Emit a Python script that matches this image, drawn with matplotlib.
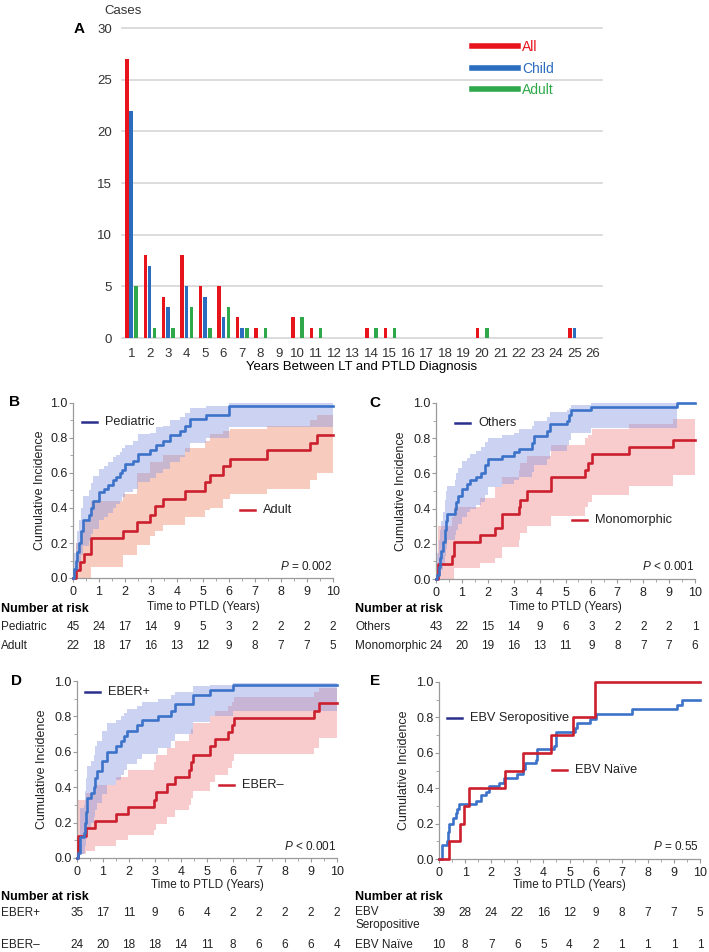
import matplotlib
matplotlib.use('Agg')
import numpy as np
import matplotlib.pyplot as plt
from matplotlib import font_manager
from matplotlib.lines import Line2D
from matplotlib.ticker import MultipleLocator, FormatStrFormatter
from matplotlib.transforms import blended_transform_factory

plt.rcParams['font.family'] = ['Liberation Sans', 'DejaVu Sans']
plt.rcParams['mathtext.fontset'] = 'custom'
plt.rcParams['mathtext.rm'] = 'Liberation Sans'
plt.rcParams['mathtext.it'] = 'Liberation Sans:italic'

try:
    font_manager.findfont('Liberation Sans Narrow', fallback_to_default=False)
    NARROW = ['Liberation Sans Narrow', 'Liberation Sans']
except ValueError:
    NARROW = ['Liberation Sans']

# ---- panel A: cases by years between LT and PTLD ----
years = list(range(1, 27))
all_cases = [27, 8, 4, 8, 5, 5, 2, 1, 0, 2, 1, 0, 0, 1, 1, 0, 0, 0, 0, 1, 0, 0, 0, 0, 1, 0]
child_cases = [22, 7, 3, 5, 4, 2, 1, 0, 0, 0, 0, 0, 0, 0, 0, 0, 0, 0, 0, 0, 0, 0, 0, 0, 1, 0]
adult_cases = [5, 1, 1, 3, 1, 3, 1, 1, 0, 2, 1, 0, 0, 1, 1, 0, 0, 0, 0, 1, 0, 0, 0, 0, 0, 0]

# ---- panel B: pediatric vs adult ----
ped_t = [0, 0.03, 0.1, 0.17, 0.24, 0.3, 0.38, 0.6, 0.7, 0.78, 1.0, 1.18, 1.35, 1.55, 1.65,
         1.8, 1.9, 2.0, 2.3, 2.5, 2.95, 3.2, 3.47, 3.73, 4.1, 4.3, 4.5, 5.1, 6.0]
ped_est = [0, 0.05, 0.1, 0.15, 0.2, 0.27, 0.33, 0.36, 0.4, 0.44, 0.49, 0.51, 0.53, 0.56, 0.58,
           0.6, 0.62, 0.65, 0.67, 0.71, 0.73, 0.76, 0.78, 0.82, 0.84, 0.87, 0.91, 0.93, 0.98]
ped_lo = [0, 0, 0.02, 0.05, 0.08, 0.13, 0.18, 0.21, 0.25, 0.28, 0.33, 0.35, 0.37, 0.4, 0.42,
          0.44, 0.46, 0.49, 0.51, 0.55, 0.57, 0.6, 0.62, 0.66, 0.69, 0.72, 0.77, 0.8, 0.86]
ped_hi = [0, 0.14, 0.2, 0.27, 0.33, 0.4, 0.47, 0.5, 0.54, 0.58, 0.62, 0.64, 0.66, 0.69, 0.7,
          0.72, 0.74, 0.76, 0.78, 0.82, 0.83, 0.86, 0.87, 0.9, 0.92, 0.94, 0.97, 0.98, 1.0]

adu_t = [0, 0.12, 0.27, 0.42, 0.68, 1.94, 2.45, 2.96, 3.15, 3.47, 4.31, 5.08, 5.27, 5.78, 6.05, 7.45, 9.12, 9.37]
adu_est = [0, 0.045, 0.09, 0.14, 0.23, 0.27, 0.32, 0.36, 0.41, 0.45, 0.5, 0.55, 0.59, 0.64, 0.68, 0.73, 0.77, 0.82]
adu_lo = [0, 0, 0, 0, 0.06, 0.13, 0.19, 0.24, 0.27, 0.3, 0.35, 0.39, 0.4, 0.45, 0.48, 0.51, 0.56, 0.6]
adu_hi = [0, 0.2, 0.27, 0.33, 0.44, 0.48, 0.6, 0.66, 0.66, 0.7, 0.74, 0.78, 0.82, 0.84, 0.85, 0.87, 0.9, 0.93]

# ---- panel C: others vs monomorphic ----
oth_t = [0, 0.05, 0.1, 0.15, 0.2, 0.28, 0.33, 0.38, 0.42, 0.72, 0.78, 0.85, 1.0, 1.2, 1.3, 1.55,
         1.75, 1.9, 2.0, 2.55, 3.0, 3.2, 3.7, 3.8, 4.3, 4.4, 5.05, 5.12, 5.2, 6.0, 9.3]
oth_est = [0, 0.02, 0.07, 0.12, 0.16, 0.21, 0.28, 0.33, 0.37, 0.40, 0.44, 0.47, 0.51, 0.54, 0.56, 0.58,
           0.6, 0.65, 0.68, 0.7, 0.72, 0.74, 0.77, 0.81, 0.84, 0.88, 0.9, 0.93, 0.96, 0.98, 1.0]
oth_lo = [0, 0, 0, 0.02, 0.05, 0.08, 0.13, 0.17, 0.22, 0.25, 0.28, 0.31, 0.35, 0.38, 0.4, 0.42,
          0.44, 0.48, 0.52, 0.54, 0.56, 0.58, 0.61, 0.65, 0.68, 0.73, 0.76, 0.79, 0.83, 0.86, 1.0]
oth_hi = [0, 0.15, 0.22, 0.28, 0.33, 0.38, 0.45, 0.5, 0.53, 0.56, 0.6, 0.63, 0.67, 0.69, 0.71, 0.73,
          0.75, 0.78, 0.8, 0.82, 0.83, 0.85, 0.87, 0.9, 0.92, 0.95, 0.96, 0.97, 0.99, 1.0, 1.0]

mono_t = [0, 0.08, 0.62, 0.68, 1.71, 2.29, 2.55, 3.22, 3.26, 3.51, 4.45, 5.77, 5.85, 6.02, 7.44, 9.15]
mono_est = [0, 0.085, 0.13, 0.21, 0.25, 0.29, 0.37, 0.41, 0.45, 0.5, 0.58, 0.62, 0.66, 0.71, 0.75, 0.79]
mono_lo = [0, 0, 0, 0.06, 0.09, 0.12, 0.18, 0.22, 0.26, 0.3, 0.36, 0.41, 0.44, 0.48, 0.53, 0.59]
mono_hi = [0, 0.3, 0.35, 0.41, 0.46, 0.52, 0.58, 0.62, 0.66, 0.7, 0.76, 0.8, 0.82, 0.85, 0.88, 0.91]

# ---- panel D: EBER+ vs EBER- ----
ep_t = [0, 0.03, 0.1, 0.28, 0.32, 0.36, 0.4, 0.55, 0.65, 0.7, 0.78, 0.95, 1.15, 1.5, 1.7,
        1.82, 1.92, 2.3, 2.5, 3.1, 3.6, 3.75, 4.45, 5.1, 6.0]
ep_est = [0, 0.03, 0.12, 0.14, 0.2, 0.26, 0.34, 0.37, 0.4, 0.45, 0.49, 0.55, 0.6, 0.63, 0.66,
          0.69, 0.72, 0.75, 0.78, 0.8, 0.83, 0.87, 0.92, 0.95, 0.98]
ep_lo = [0, 0, 0.02, 0.03, 0.07, 0.11, 0.17, 0.2, 0.23, 0.27, 0.31, 0.36, 0.41, 0.44, 0.47,
         0.5, 0.53, 0.56, 0.59, 0.62, 0.66, 0.7, 0.77, 0.8, 0.83]
ep_hi = [0, 0.12, 0.28, 0.3, 0.38, 0.45, 0.52, 0.55, 0.58, 0.63, 0.66, 0.72, 0.76, 0.78, 0.8,
         0.82, 0.84, 0.86, 0.88, 0.9, 0.92, 0.94, 0.97, 0.98, 0.99]

en_t = [0, 0.04, 0.35, 0.68, 1.5, 1.95, 2.95, 3.05, 3.45, 3.75, 4.3, 4.38, 4.45, 5.1, 5.3, 5.8, 5.95, 6.02, 9.1, 9.3]
en_est = [0, 0.125, 0.17, 0.21, 0.25, 0.29, 0.33, 0.375, 0.42, 0.46, 0.5, 0.54, 0.58, 0.63, 0.67, 0.71, 0.75, 0.79, 0.83, 0.875]
en_lo = [0, 0.02, 0.04, 0.07, 0.1, 0.13, 0.16, 0.19, 0.23, 0.27, 0.3, 0.34, 0.38, 0.43, 0.47, 0.51, 0.55, 0.59, 0.62, 0.68]
en_hi = [0, 0.33, 0.37, 0.41, 0.46, 0.5, 0.54, 0.58, 0.62, 0.66, 0.7, 0.73, 0.76, 0.8, 0.83, 0.86, 0.88, 0.91, 0.94, 0.96]

# ---- panel E: EBV seropositive vs naive ----
sero_t = [0, 0.1, 0.3, 0.35, 0.4, 0.55, 0.65, 0.7, 0.75, 1.4, 1.6, 1.8, 1.9, 2.3, 2.5,
          3.0, 3.2, 3.3, 3.7, 3.75, 4.4, 4.5, 5.2, 5.3, 5.8, 6.0, 7.4, 9.1, 9.3]
sero_est = [0, 0.08, 0.1, 0.15, 0.2, 0.23, 0.26, 0.28, 0.31, 0.33, 0.36, 0.38, 0.41, 0.43, 0.46,
            0.48, 0.51, 0.54, 0.56, 0.62, 0.64, 0.72, 0.74, 0.77, 0.79, 0.82, 0.85, 0.87, 0.9]
naive_t = [0, 0.4, 0.8, 0.97, 1.16, 2.54, 3.23, 4.29, 5.12, 5.97, 5.99]
naive_est = [0, 0.1, 0.2, 0.3, 0.4, 0.5, 0.6, 0.7, 0.8, 0.9, 1.0]

# numbers at risk at years 0..10
risk_ped = [45, 24, 17, 14, 9, 5, 3, 2, 2, 2, 2]
risk_adu = [22, 18, 17, 16, 13, 12, 9, 8, 7, 7, 5]
risk_oth = [43, 22, 15, 14, 9, 6, 3, 2, 2, 2, 1]
risk_mono = [24, 20, 19, 16, 13, 11, 9, 8, 7, 7, 6]
risk_ep = [35, 17, 11, 9, 6, 4, 2, 2, 2, 2, 2]
risk_en = [24, 20, 18, 18, 14, 11, 8, 6, 6, 6, 4]
risk_sero = [39, 28, 24, 22, 16, 12, 9, 8, 7, 7, 5]
risk_naive = [10, 8, 7, 6, 5, 4, 2, 1, 1, 1, 1]

RED_A, BLUE_A, GREEN_A = '#e8141c', '#2a6cbd', '#2ea84a'
BLUE, RED = '#3d72c9', '#cc1f2e'
NAVY = '#2a2f8c'
BAND_BLUE = '#8e9ce0'
BAND_RED_B = '#ef8f72'
BAND_RED = '#f08c92'

W, H = 709, 952
fig = plt.figure(figsize=(W / 100, H / 100), dpi=100)


def add_ax(x0, y0, x1, y1):
    return fig.add_axes([x0 / W, 1 - y1 / H, (x1 - x0) / W, (y1 - y0) / H])


def ftext(x, y, s, **kw):
    return fig.text(x / W, 1 - y / H, s, **kw)


# ---------------- Panel A ----------------
axA = add_ax(122, 28, 602, 338)
x = np.array(years)
axA.bar(x - 0.24, all_cases, 0.19, color=RED_A, linewidth=0)
axA.bar(x, child_cases, 0.19, color=BLUE_A, linewidth=0)
axA.bar(x + 0.26, adult_cases, 0.19, color=GREEN_A, linewidth=0)
axA.set_xlim(0.5, 26.5)
axA.set_ylim(0, 30)
axA.set_xticks(years)
axA.set_yticks(range(0, 31, 5))
axA.grid(axis='y', color='#d6d6d6', lw=1.2)
axA.set_axisbelow(True)
for gl in axA.get_ygridlines():
    gl.set_clip_on(False)
for s in axA.spines.values():
    s.set_visible(False)
axA.tick_params(length=0, labelsize=9.5, labelcolor='#333')
axA.tick_params(axis='x', pad=7)
axA.tick_params(axis='y', pad=7)
for lab in axA.get_xticklabels() + axA.get_yticklabels():
    lab.set_family(NARROW)

handles = [Line2D([], [], color=c, lw=4) for c in (RED_A, BLUE_A, GREEN_A)]
axA.legend(handles, ['All', 'Child', 'Adult'], loc='upper left',
           bbox_to_anchor=((472 - 122) / 480, (338 - 40) / 310), frameon=False,
           handlelength=3.3, handletextpad=0.3, labelspacing=0.55, borderpad=0,
           borderaxespad=0, prop={'family': NARROW, 'size': 10},
           labelcolor=[RED_A, BLUE_A, GREEN_A])

ftext(123, 11, 'Cases', ha='center', va='center', fontsize=9.5, family=NARROW, color='#333')
ftext(79, 29, 'A', ha='center', va='center', fontsize=11, fontweight='bold')
ftext(362, 367, 'Years Between LT and PTLD Diagnosis', ha='center', va='center', fontsize=9.5)


# ---------------- KM panels ----------------
def km_panel(box, curves, keys, pval, letter, letter_xy, ylab_x, xlab_y,
             nar_xy, rows):
    ax = add_ax(*box)
    for c in curves:
        t = list(c['t']) + [10]
        if c.get('lo') is not None:
            lo = list(c['lo']) + [c['lo'][-1]]
            hi = list(c['hi']) + [c['hi'][-1]]
            ax.fill_between(t, lo, hi, step='post', color=c['band'], alpha=0.45, lw=0)
    for c in curves:
        t = list(c['t']) + [10]
        est = list(c['est']) + [c['est'][-1]]
        ax.step(t, est, where='post', color=c['color'], lw=1.9, clip_on=False, zorder=3)
    ax.set_xlim(0, 10)
    ax.set_ylim(0, 1)
    ax.xaxis.set_major_locator(MultipleLocator(1))
    ax.xaxis.set_minor_locator(MultipleLocator(0.5))
    ax.yaxis.set_major_locator(MultipleLocator(0.2))
    ax.yaxis.set_minor_locator(MultipleLocator(0.1))
    ax.yaxis.set_major_formatter(FormatStrFormatter('%.1f'))
    for side in ('top', 'right'):
        ax.spines[side].set_visible(False)
    for side in ('left', 'bottom'):
        ax.spines[side].set_color('#9a9a9a')
        ax.spines[side].set_linewidth(0.9)
    ax.tick_params(which='major', length=3, color='#9a9a9a', labelsize=9, labelcolor='#222')
    ax.tick_params(which='minor', length=2, color='#9a9a9a')
    ax.tick_params(axis='x', which='major', pad=2.5)
    ax.tick_params(axis='y', which='major', pad=1)

    x0, y0, x1, y1 = box
    ftext(ylab_x, (y0 + y1) / 2, 'Cumulative Incidence', rotation=90,
          ha='center', va='center', fontsize=9, color='#222')
    ftext((x0 + x1) / 2, xlab_y, 'Time to PTLD (Years)', ha='center', va='center',
          fontsize=8.5, color='#222')
    ftext(letter_xy[0], letter_xy[1], letter, ha='center', va='center',
          fontsize=11, fontweight='bold')

    for kx, ky, label, color in keys:
        fig.add_artist(Line2D([kx / W, (kx + 15) / W], [1 - ky / H, 1 - ky / H],
                              transform=fig.transFigure, color=color, lw=1.8))
        ftext(kx + 23, ky, label, ha='left', va='center', fontsize=9.2, color='#222')

    ftext(x1 - 1, y1 - 12, r'$P$' + pval, ha='right', va='center', fontsize=8.5, color='#222')

    ftext(nar_xy[0], nar_xy[1], 'Number at risk', ha='left', va='center',
          fontsize=9, fontweight='bold')
    tr = blended_transform_factory(ax.transData, fig.transFigure)
    for name, ry, vals in rows:
        if '\n' in name:
            ftext(nar_xy[0], ry - 7, name, ha='left', va='top', fontsize=8.5,
                  color='#222', linespacing=1.15)
        else:
            ftext(nar_xy[0], ry, name, ha='left', va='center', fontsize=8.5, color='#222')
        for i, v in enumerate(vals):
            ax.text(i, 1 - ry / H, str(v), transform=tr, ha='center', va='center',
                    fontsize=8.5, color='#222')
    return ax


km_panel((73, 403, 333, 578),
         [dict(t=adu_t, est=adu_est, lo=adu_lo, hi=adu_hi, color=RED, band=BAND_RED_B),
          dict(t=ped_t, est=ped_est, lo=ped_lo, hi=ped_hi, color=BLUE, band=BAND_BLUE)],
         [(82, 422, 'Pediatric', NAVY), (240, 510, 'Adult', RED)],
         ' = 0.002', 'B', (15, 402), 40, 607, (1, 609),
         [('Pediatric', 627, risk_ped), ('Adult', 646, risk_adu)])

km_panel((436, 403, 695, 579),
         [dict(t=mono_t, est=mono_est, lo=mono_lo, hi=mono_hi, color=RED, band=BAND_RED),
          dict(t=oth_t, est=oth_est, lo=oth_lo, hi=oth_hi, color=BLUE, band=BAND_BLUE)],
         [(455, 423, 'Others', NAVY), (572, 520, 'Monomorphic', RED)],
         ' < 0.001', 'C', (375, 403), 401, 607, (355, 609),
         [('Others', 627, risk_oth), ('Monomorphic', 646, risk_mono)])

km_panel((77, 681, 337, 858),
         [dict(t=en_t, est=en_est, lo=en_lo, hi=en_hi, color=RED, band=BAND_RED),
          dict(t=ep_t, est=ep_est, lo=ep_lo, hi=ep_hi, color=BLUE, band=BAND_BLUE)],
         [(85, 692, 'EBER+', NAVY), (219, 785, 'EBER\u2013', RED)],
         ' < 0.001', 'D', (16, 681), 42, 885, (1, 897),
         [('EBER+', 913, risk_ep), ('EBER\u2013', 945, risk_en)])

km_panel((439, 682, 700, 859),
         [dict(t=sero_t, est=sero_est, color=BLUE),
          dict(t=naive_t, est=naive_est, color=RED)],
         [(447, 718, 'EBV Seropositive', NAVY), (552, 770, 'EBV Na\u00efve', RED)],
         ' = 0.55', 'E', (375, 681), 404, 885, (355, 897),
         [('EBV\nSeropositive', 913, risk_sero), ('EBV Na\u00efve', 945, risk_naive)])

fig.savefig('out.png', dpi=100)
